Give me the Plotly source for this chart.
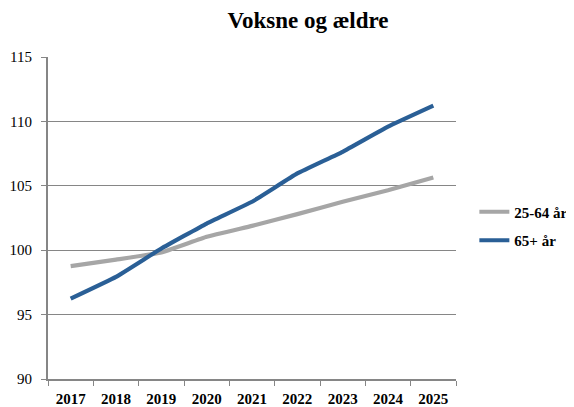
import plotly.graph_objects as go

years = ["2017", "2018", "2019", "2020", "2021", "2022", "2023", "2024", "2025"]
adults_25_64 = [98.76, 99.27, 99.82, 101.04, 101.89, 102.8, 103.76, 104.66, 105.65]
elderly_65 = [96.24, 97.93, 100.13, 102.07, 103.76, 105.96, 107.64, 109.59, 111.22]

font_family = "Liberation Serif, Times New Roman, serif"

# page body has an 8px margin; compensate so content lands where the reference has it
OFF = 8
W, H = 574, 407
PL, PT, PW, PH = 48 - OFF, 57 - OFF, 408, 322

fig = go.Figure()
fig.add_trace(go.Scatter(x=years, y=adults_25_64, mode="lines", name="<b>25-64 år</b>",
                         legendgroup="a", line=dict(color="#A6A6A6", width=4.2, shape="spline", smoothing=0.3)))
fig.add_trace(go.Scatter(x=years, y=elderly_65, mode="lines", name="<b>65+ år</b>",
                         legendgroup="b", line=dict(color="#2A5F96", width=4.2, shape="spline", smoothing=0.3)))

fig.update_layout(
    width=W, height=H,
    margin=dict(l=PL, r=W - PL - PW, t=PT, b=H - PT - PH, autoexpand=False),
    paper_bgcolor="white", plot_bgcolor="white",
    font=dict(family=font_family, color="black", size=15),
    title=dict(text="<b>Voksne og ældre</b>", x=((228 + 388) / 2 - OFF) / W, xanchor="center",
               y=1 - (20 - OFF) / H, yanchor="middle", font=dict(size=23, family=font_family)),
    legend=dict(x=1.045, xanchor="left", y=(379 - 226) / 322, yanchor="middle",
                font=dict(size=15, family=font_family), tracegroupgap=6,
                itemwidth=30, bgcolor="rgba(0,0,0,0)"),
    showlegend=True,
)

fig.update_xaxes(
    type="category", range=[-0.5, 8.5], tickson="boundaries",
    showline=True, linecolor="#868686", linewidth=2,
    ticks="outside", ticklen=5, tickcolor="#868686", tickwidth=1,
    showgrid=False, tickfont=dict(size=15, family=font_family),
    tickprefix="<b>", ticksuffix="</b>", automargin=False, ticklabelstandoff=5,
)
fig.update_yaxes(
    range=[90, 115], dtick=5, tick0=90,
    showline=True, linecolor="#868686", linewidth=2,
    ticks="outside", ticklen=5, tickcolor="#868686", tickwidth=1,
    showgrid=True, gridcolor="#868686", gridwidth=1, zeroline=False,
    tickfont=dict(size=15, family=font_family), ticklabelstandoff=6, automargin=False,
)

fig.write_html("out.html")
